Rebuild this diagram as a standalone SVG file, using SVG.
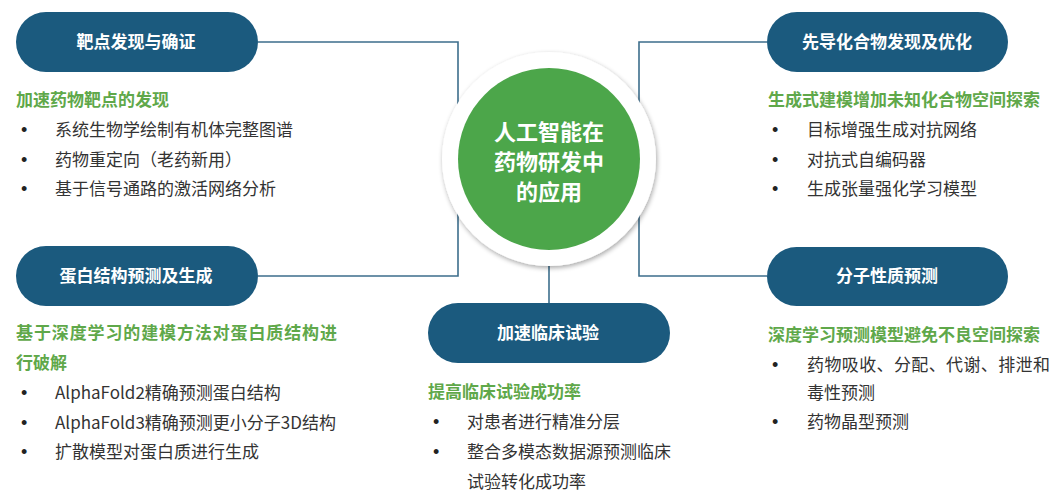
<svg xmlns="http://www.w3.org/2000/svg" width="1059" height="500" viewBox="0 0 1059 500">
<defs>
<filter id="sh" x="-20%" y="-20%" width="140%" height="140%">
<feGaussianBlur in="SourceAlpha" stdDeviation="2.5"/>
<feOffset dx="1" dy="2"/>
<feComponentTransfer><feFuncA type="linear" slope="0.35"/></feComponentTransfer>
<feMerge><feMergeNode/><feMergeNode in="SourceGraphic"/></feMerge>
</filter>
</defs>
<style>
.pill{fill:#1b5a7e}
.pt{font-family:"Noto Sans CJK SC","Noto Sans",sans-serif;font-weight:bold;font-size:17px;fill:#ffffff;text-anchor:middle}
.hd{font-family:"Noto Sans CJK SC","Noto Sans",sans-serif;font-weight:bold;font-size:17px;fill:#5fa84a}
.it{font-family:"Noto Sans CJK SC","Noto Sans",sans-serif;font-size:17px;fill:#333333}
.bu{font-family:"Liberation Sans",Arial,sans-serif;font-size:18px;fill:#222222}
.ct{font-family:"Noto Sans CJK SC","Noto Sans",sans-serif;font-weight:bold;font-size:22px;fill:#ffffff;text-anchor:middle}
.ln{fill:none;stroke:#3d6e8c;stroke-width:1.6}
</style>
<rect width="1059" height="500" fill="#ffffff"/>
<g id="connectors">
<polyline class="ln" points="258,42 458,42 458,276 258,276"/>
<polyline class="ln" points="767,42 639,42 639,276 767,276"/>
<line class="ln" x1="549" y1="250" x2="549" y2="304"/>
</g>
<g id="center">
<circle cx="549" cy="159" r="107" fill="#ffffff" filter="url(#sh)"/>
<circle cx="549" cy="159" r="91" fill="#4ca64a"/>
<text class="ct" x="549" y="140">人工智能在</text>
<text class="ct" x="549" y="170">药物研发中</text>
<text class="ct" x="549" y="200">的应用</text>
</g>
<g id="target">
<rect class="pill" x="16" y="12" width="242" height="60" rx="30"/>
<text class="pt" x="136" y="48">靶点发现与确证</text>
<text class="hd" x="16" y="106">加速药物靶点的发现</text>
<text class="bu" x="21" y="136">•</text><text class="it" x="55" y="136">系统生物学绘制有机体完整图谱</text>
<text class="bu" x="21" y="166">•</text><text class="it" x="55" y="166">药物重定向（老药新用）</text>
<text class="bu" x="21" y="195">•</text><text class="it" x="55" y="195">基于信号通路的激活网络分析</text>
</g>
<g id="protein">
<rect class="pill" x="16" y="246" width="242" height="60" rx="30"/>
<text class="pt" x="136" y="282">蛋白结构预测及生成</text>
<text class="hd" x="16" y="339" textLength="321">基于深度学习的建模方法对蛋白质结构进</text>
<text class="hd" x="16" y="369">行破解</text>
<text class="bu" x="21" y="399">•</text><text class="it" x="55" y="399">AlphaFold2精确预测蛋白结构</text>
<text class="bu" x="21" y="429">•</text><text class="it" x="55" y="429">AlphaFold3精确预测更小分子3D结构</text>
<text class="bu" x="21" y="458">•</text><text class="it" x="55" y="458">扩散模型对蛋白质进行生成</text>
</g>
<g id="clinical">
<rect class="pill" x="428" y="303" width="242" height="60" rx="30"/>
<text class="pt" x="548" y="339">加速临床试验</text>
<text class="hd" x="428" y="398">提高临床试验成功率</text>
<text class="bu" x="433" y="428">•</text><text class="it" x="467" y="428">对患者进行精准分层</text>
<text class="bu" x="433" y="458">•</text><text class="it" x="467" y="458">整合多模态数据源预测临床</text>
<text class="it" x="467" y="488">试验转化成功率</text>
</g>
<g id="lead">
<rect class="pill" x="767" y="12" width="241" height="60" rx="30"/>
<text class="pt" x="887" y="48">先导化合物发现及优化</text>
<text class="hd" x="768" y="106">生成式建模增加未知化合物空间探索</text>
<text class="bu" x="772" y="136">•</text><text class="it" x="807" y="136">目标增强生成对抗网络</text>
<text class="bu" x="772" y="166">•</text><text class="it" x="807" y="166">对抗式自编码器</text>
<text class="bu" x="772" y="195">•</text><text class="it" x="807" y="195">生成张量强化学习模型</text>
</g>
<g id="property">
<rect class="pill" x="767" y="247" width="241" height="59" rx="29.5"/>
<text class="pt" x="887" y="282">分子性质预测</text>
<text class="hd" x="768" y="341">深度学习预测模型避免不良空间探索</text>
<text class="bu" x="772" y="371">•</text><text class="it" x="807" y="371" textLength="243">药物吸收、分配、代谢、排泄和</text>
<text class="it" x="807" y="399">毒性预测</text>
<text class="bu" x="772" y="428">•</text><text class="it" x="807" y="428">药物晶型预测</text>
</g>
</svg>
